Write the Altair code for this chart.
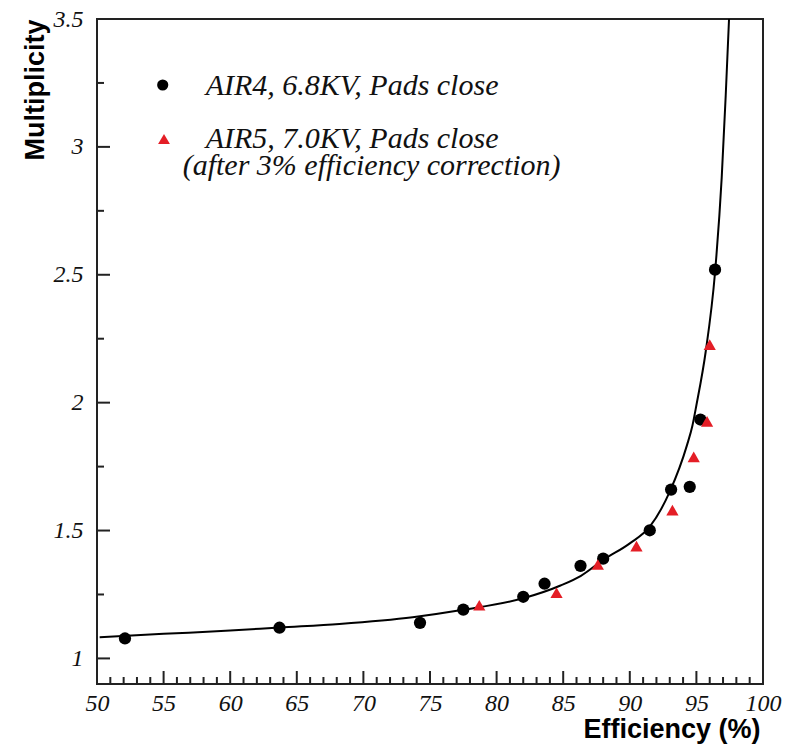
import altair as alt
import pandas as pd

# ---- data ----
air4_eff = [52.1, 63.7, 74.25, 77.5, 82.0, 83.6, 86.3, 88.0, 91.5, 93.1, 94.5, 95.3, 96.4]
air4_mult = [1.078, 1.120, 1.139, 1.191, 1.241, 1.292, 1.362, 1.390, 1.501, 1.660, 1.671, 1.934, 2.52]

air5_eff = [78.7, 84.5, 87.6, 90.5, 93.2, 94.8, 95.8, 96.0]
air5_mult = [1.208, 1.257, 1.367, 1.439, 1.58, 1.788, 1.927, 2.227]

fit_eff = [50.2, 55, 60, 63.7, 68.2, 73.7, 77.5, 82.0, 84.8, 86.3, 88.0, 90.0, 91.5,
           93.0, 94.3, 94.7, 95.0, 95.7, 96.4, 96.9, 97.2, 97.45]
fit_mult = [1.083, 1.096, 1.109, 1.121, 1.135, 1.161, 1.19, 1.235, 1.285, 1.322, 1.385, 1.45, 1.515,
            1.652, 1.835, 1.91, 1.99, 2.2, 2.51, 2.88, 3.2, 3.5]

x_major = [50, 55, 60, 65, 70, 75, 80, 85, 90, 95, 100]
x_minor = [v for v in range(50, 101) if v % 5 != 0]
y_major = [1.0, 1.5, 2.0, 2.5, 3.0, 3.5]
y_minor = [1.25, 1.75, 2.25, 2.75, 3.25]

legend_labels = ["AIR4, 6.8KV, Pads close", "AIR5, 7.0KV, Pads close",
                 "(after 3% efficiency correction)"]

W, H = 666, 665
RED = "#e41e26"
FRAME = "#222"

xscale = alt.Scale(domain=[50, 100], nice=False, zero=False)
yscale = alt.Scale(domain=[0.9, 3.5], nice=False, zero=False)

df4 = pd.DataFrame({"eff": air4_eff, "mult": air4_mult})
df5 = pd.DataFrame({"eff": air5_eff, "mult": air5_mult})
dffit = pd.DataFrame({"eff": fit_eff, "mult": fit_mult})

xaxis = alt.Axis(values=x_major, format="d", title="Efficiency (%)",
                 labelFont="Liberation Serif", labelFontStyle="italic", labelFontSize=24,
                 labelColor="#111", labelPadding=7, labelFlush=False,
                 titleFont="Liberation Sans", titleFontWeight="bold", titleFontSize=27,
                 titleColor="#000", titleX=663, titleY=53, titleAlign="right",
                 titleBaseline="alphabetic")
yaxis = alt.Axis(values=y_major, format="~g", title="Multiplicity",
                 labelFont="Liberation Serif", labelFontStyle="italic", labelFontSize=24,
                 labelColor="#111", labelPadding=14, labelFlush=False,
                 titleFont="Liberation Sans", titleFontWeight="bold", titleFontSize=27,
                 titleColor="#000", titleAngle=270, titleX=-54, titleY=0,
                 titleAlign="right", titleBaseline="alphabetic")

fit = alt.Chart(dffit).mark_line(color="black", strokeWidth=2, interpolate="monotone", clip=True).encode(
    x=alt.X("eff:Q", scale=xscale, axis=xaxis),
    y=alt.Y("mult:Q", scale=yscale, axis=yaxis),
)

pts4 = alt.Chart(df4).mark_point(shape="circle", filled=True, color="black", opacity=1, size=150).encode(
    x=alt.X("eff:Q", scale=xscale), y=alt.Y("mult:Q", scale=yscale))
pts5 = alt.Chart(df5).mark_point(shape="triangle-up", filled=True, color=RED, opacity=1, size=150).encode(
    x=alt.X("eff:Q", scale=xscale), y=alt.Y("mult:Q", scale=yscale))

# inward-pointing ticks
xmaj = alt.Chart(pd.DataFrame({"v": x_major})).mark_tick(
    orient="vertical", size=13, thickness=2, color=FRAME, opacity=1).encode(
    x=alt.X("v:Q", scale=xscale), y=alt.value(H - 6.5))
xmin = alt.Chart(pd.DataFrame({"v": x_minor})).mark_tick(
    orient="vertical", size=7, thickness=2, color=FRAME, opacity=1).encode(
    x=alt.X("v:Q", scale=xscale), y=alt.value(H - 3.5))
ymaj = alt.Chart(pd.DataFrame({"v": y_major})).mark_tick(
    orient="horizontal", size=13, thickness=2, color=FRAME, opacity=1).encode(
    y=alt.Y("v:Q", scale=yscale), x=alt.value(6.5))
ymin = alt.Chart(pd.DataFrame({"v": y_minor})).mark_tick(
    orient="horizontal", size=7, thickness=2, color=FRAME, opacity=1).encode(
    y=alt.Y("v:Q", scale=yscale), x=alt.value(3.5))

def legend_text(label, px, py):
    return alt.Chart(pd.DataFrame({"t": [label]})).mark_text(
        align="left", baseline="alphabetic", font="Liberation Serif", fontStyle="italic",
        fontSize=30, color="#111").encode(x=alt.value(px), y=alt.value(py), text="t:N")

leg1 = legend_text(legend_labels[0], 108.7, 76)
leg2 = legend_text(legend_labels[1], 108.7, 129.3)
leg3 = legend_text(legend_labels[2], 85.7, 156)

legsym1 = alt.Chart(pd.DataFrame({"s": ["a"]})).mark_point(
    shape="circle", filled=True, color="black", opacity=1, size=125).encode(
    x=alt.value(65.7), y=alt.value(66))
legsym2 = alt.Chart(pd.DataFrame({"s": ["b"]})).mark_point(
    shape="triangle-up", filled=True, color=RED, opacity=1, size=140).encode(
    x=alt.value(67), y=alt.value(120))

chart = alt.layer(fit, xmaj, xmin, ymaj, ymin, pts4, pts5, leg1, leg2, leg3, legsym1, legsym2).properties(
    width=W, height=H,
    autosize=alt.AutoSizeParams(type="none"),
    padding={"left": 89, "top": 11, "right": 20, "bottom": 62},
).configure_view(stroke=FRAME, strokeWidth=2).configure_axis(
    domain=False, ticks=False, grid=False)

chart.save("out.html", embed_options={"renderer": "svg", "actions": False})
